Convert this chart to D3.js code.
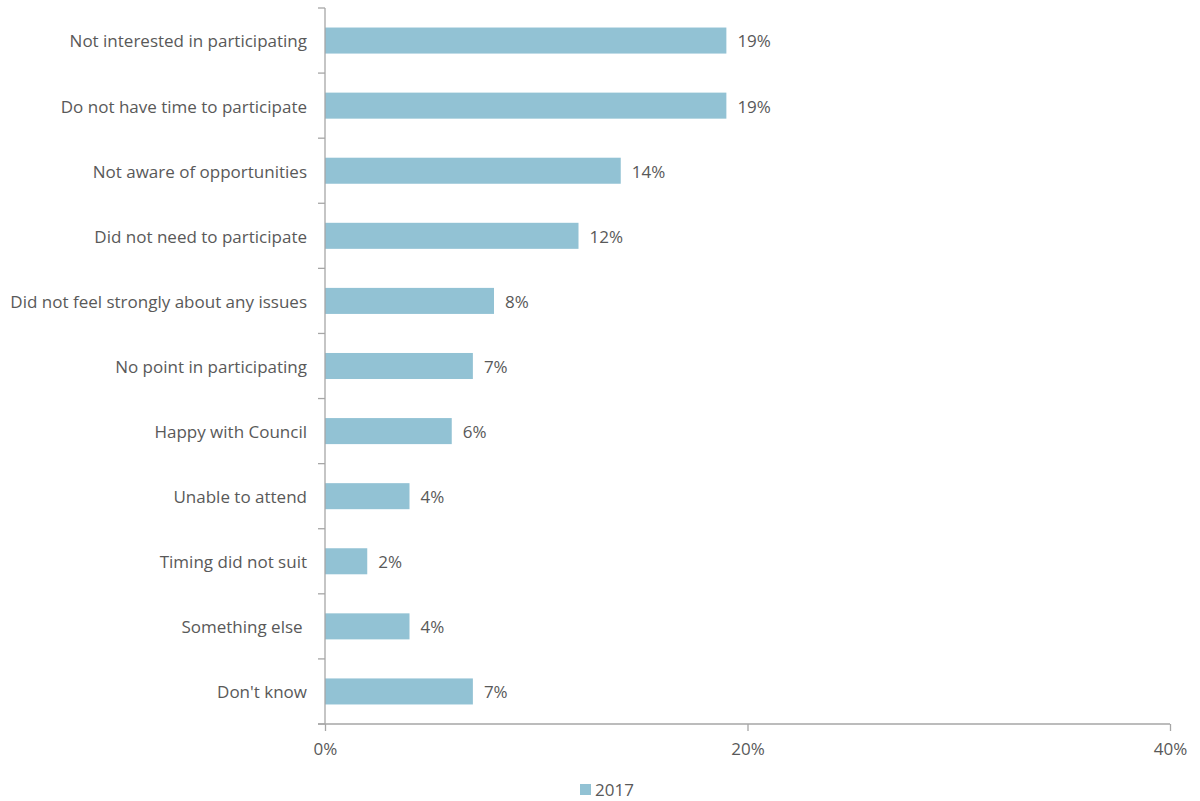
<!DOCTYPE html>
<html>
<head>
<meta charset="utf-8">
<script src="https://cdn.jsdelivr.net/npm/d3@7"></script>
<style>
  html, body { margin: 0; padding: 0; background: #fff; }
  svg { display: block; font-family: "Open Sans", "Noto Sans", sans-serif; }
  text { white-space: pre; }
</style>
</head>
<body>
<svg id="chart" width="1200" height="801"></svg>
<script>
// Reasons for not participating, share of respondents (%)
const categories = [
  "Not interested in participating",
  "Do not have time to participate",
  "Not aware of opportunities",
  "Did not need to participate",
  "Did not feel strongly about any issues",
  "No point in participating",
  "Happy with Council",
  "Unable to attend",
  "Timing did not suit",
  "Something else ",
  "Don't know"
];
const values2017 = [19, 19, 14, 12, 8, 7, 6, 4, 2, 4, 7];
const xTicks = [0, 20, 40];
const seriesName = "2017";

const svg = d3.select("#chart");
const plotLeft = 325, plotRight = 1170, plotTop = 8, plotBottom = 724;
const textColor = "#595959";
const axisColor = "#a6a6a6";
const barColor = "#92c2d4";
const fontSize = 17;

const x = d3.scaleLinear().domain([0, 40]).range([plotLeft, plotRight]);
const y = d3.scaleBand().domain(categories).range([plotTop, plotBottom]).paddingInner(0.6).paddingOuter(0.3);
const yEdges = d3.scaleLinear().domain([0, categories.length]).range([plotTop, plotBottom]);

// Bars
svg.append("g").selectAll("rect")
  .data(categories)
  .join("rect")
  .attr("x", x(0))
  .attr("y", d => y(d))
  .attr("width", (d, i) => x(values2017[i]) - x(0))
  .attr("height", y.bandwidth())
  .attr("fill", barColor);

// Value labels
svg.append("g").selectAll("text")
  .data(categories)
  .join("text")
  .attr("x", (d, i) => x(values2017[i]) + 11)
  .attr("y", d => y(d) + y.bandwidth() / 2 + 1)
  .attr("dy", "0.35em")
  .attr("font-size", fontSize)
  .attr("fill", textColor)
  .text((d, i) => values2017[i] + "%");

// Category axis (ticks at category boundaries)
const yAxis = svg.append("g");
yAxis.append("line")
  .attr("x1", plotLeft).attr("x2", plotLeft)
  .attr("y1", plotTop).attr("y2", plotBottom)
  .attr("stroke", axisColor).attr("stroke-width", 1.3);
yAxis.selectAll("line.tick")
  .data(d3.range(categories.length + 1))
  .join("line")
  .attr("class", "tick")
  .attr("x1", plotLeft - 7).attr("x2", plotLeft)
  .attr("y1", d => yEdges(d)).attr("y2", d => yEdges(d))
  .attr("stroke", axisColor).attr("stroke-width", 1.3);
yAxis.selectAll("text")
  .data(categories)
  .join("text")
  .attr("x", plotLeft - 18)
  .attr("y", d => y(d) + y.bandwidth() / 2 + 1)
  .attr("dy", "0.35em")
  .attr("text-anchor", "end")
  .attr("font-size", fontSize)
  .attr("fill", textColor)
  .text(d => d);

// Value axis
const xAxis = svg.append("g")
  .attr("transform", `translate(0,${plotBottom})`)
  .call(d3.axisBottom(x).tickValues(xTicks).tickFormat(d => d + "%").tickSize(7).tickPadding(12));
xAxis.select(".domain").attr("stroke", axisColor).attr("stroke-width", 1.3)
  .attr("d", `M${plotLeft - 7},0H${plotRight}`);
xAxis.selectAll(".tick line").attr("stroke", axisColor).attr("stroke-width", 1.3);
xAxis.selectAll(".tick text")
  .attr("font-size", fontSize)
  .attr("font-family", "\"Open Sans\", \"Noto Sans\", sans-serif")
  .attr("fill", textColor);

// Legend
const legend = svg.append("g").attr("transform", "translate(580,784)");
legend.append("rect").attr("width", 11).attr("height", 11).attr("fill", barColor);
legend.append("text")
  .attr("x", 15).attr("y", 6).attr("dy", "0.35em")
  .attr("font-size", fontSize).attr("fill", textColor)
  .text(seriesName);
</script>
</body>
</html>
